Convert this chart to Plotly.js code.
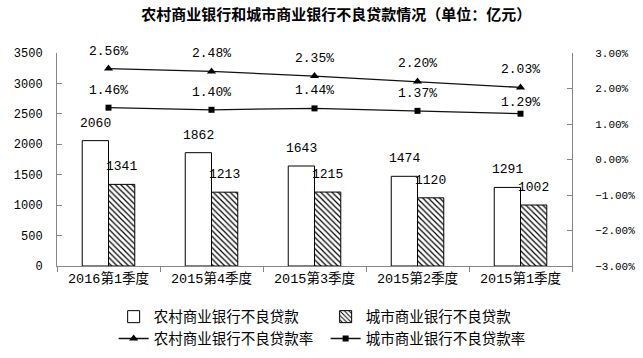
<!DOCTYPE html>
<html><head><meta charset="utf-8">
<script src="https://cdn.plot.ly/plotly-3.0.1.min.js"></script>
<style>body{margin:0;padding:0;background:#fff}#chart{width:643px;height:358px}</style>
</head><body><div id="chart"></div>
<script>
const categories = ['2016第1季度','2015第4季度','2015第3季度','2015第2季度','2015第1季度'];
const ruralLoans = [2060, 1862, 1643, 1474, 1291];
const cityLoans = [1341, 1213, 1215, 1120, 1002];
const ruralRate = [2.56, 2.48, 2.35, 2.20, 2.03];
const cityRate = [1.46, 1.40, 1.44, 1.37, 1.29];
const seriesNames = ['农村商业银行不良贷款','城市商业银行不良贷款','农村商业银行不良贷款率','城市商业银行不良贷款率'];

const numFont = {family: 'Liberation Mono, DejaVu Sans Mono, monospace', size: 12, color: '#000'};
const rightFont = {family: 'Liberation Mono, DejaVu Sans Mono, monospace', size: 11, color: '#000'};
const labelFont = {family: 'Liberation Mono, DejaVu Sans Mono, monospace', size: 13, color: '#000'};
const cjk = 'Noto Sans CJK SC, sans-serif';

const traces = [
  {type:'bar', name:seriesNames[0], x:categories, y:ruralLoans,
   marker:{color:'#fff', line:{color:'#000', width:1}}},
  {type:'bar', name:seriesNames[1], x:categories, y:cityLoans,
   marker:{color:'#fff', line:{color:'#000', width:1},
     pattern:{shape:'\\', fgcolor:'#000', bgcolor:'#fff', size:4, solidity:0.3}}},
  {type:'scatter', mode:'lines+markers', name:seriesNames[2], x:categories, y:ruralRate, yaxis:'y2',
   line:{color:'#111', width:1.3}, marker:{symbol:'triangle-up', size:8, color:'#000'}, cliponaxis:false},
  {type:'scatter', mode:'lines+markers', name:seriesNames[3], x:categories, y:cityRate, yaxis:'y2',
   line:{color:'#111', width:1.3}, marker:{symbol:'square', size:6, color:'#000'}, cliponaxis:false}
];

const annotations = [];
categories.forEach((c, i) => {
  annotations.push({x:c, y:ruralLoans[i], xref:'x', yref:'y', text:String(ruralLoans[i]), showarrow:false,
    xshift:-13, yshift:8, yanchor:'bottom', font:labelFont});
  annotations.push({x:c, y:cityLoans[i], xref:'x', yref:'y', text:String(cityLoans[i]), showarrow:false,
    xshift:13, yshift:8, yanchor:'bottom', font:labelFont});
  annotations.push({x:c, y:ruralRate[i], xref:'x', yref:'y2', text:ruralRate[i].toFixed(2)+'%', showarrow:false,
    yshift:8, yanchor:'bottom', font:labelFont});
  annotations.push({x:c, y:cityRate[i], xref:'x', yref:'y2', text:cityRate[i].toFixed(2)+'%', showarrow:false,
    yshift:(i === categories.length - 1 ? 2 : 8), yanchor:'bottom', font:labelFont});
});

const layout = {
  width:643, height:358,
  margin:{l:57, r:71, t:53, b:92, autoexpand:false},
  paper_bgcolor:'#fff', plot_bgcolor:'#fff',
  title:{text:'<b>农村商业银行和城市商业银行不良贷款情况（单位：亿元）</b>', x:0.523, xanchor:'center', y:0.958, yanchor:'middle',
    font:{family:cjk, size:15, color:'#000'}},
  barmode:'group', bargap:0.49, bargroupgap:0,
  showlegend:true,
  annotations: annotations,
  legend:{orientation:'h', x:0.11, xanchor:'left', yref:'container', y:0.16, yanchor:'top', entrywidth:167,
    font:{family:cjk, size:14.5, color:'#000'}, itemwidth:30, tracegroupgap:0},
  xaxis:{type:'category', showline:true, linecolor:'#868686', linewidth:1,
    ticks:'outside', tickson:'boundaries', ticklen:5, tickcolor:'#868686',
    tickfont:{family:'Liberation Mono, Noto Sans CJK SC, sans-serif', size:13.5, color:'#000'}, showgrid:false, zeroline:false},
  yaxis:{range:[0,3500], dtick:500, showline:true, linecolor:'#868686', linewidth:1,
    ticks:'inside', ticklen:5, tickcolor:'#868686', showgrid:false, zeroline:false,
    ticklabelstandoff:11, tickfont:numFont},
  yaxis2:{overlaying:'y', side:'right', range:[-3,3], dtick:1, tickformat:'.2f', ticksuffix:'%',
    showline:true, linecolor:'#868686', linewidth:1, ticks:'inside', ticklen:5, tickcolor:'#868686',
    showgrid:false, zeroline:false, ticklabelstandoff:20, tickfont:rightFont}
};

Plotly.newPlot('chart', traces, layout, {displayModeBar:false, staticPlot:true});
</script></body></html>
